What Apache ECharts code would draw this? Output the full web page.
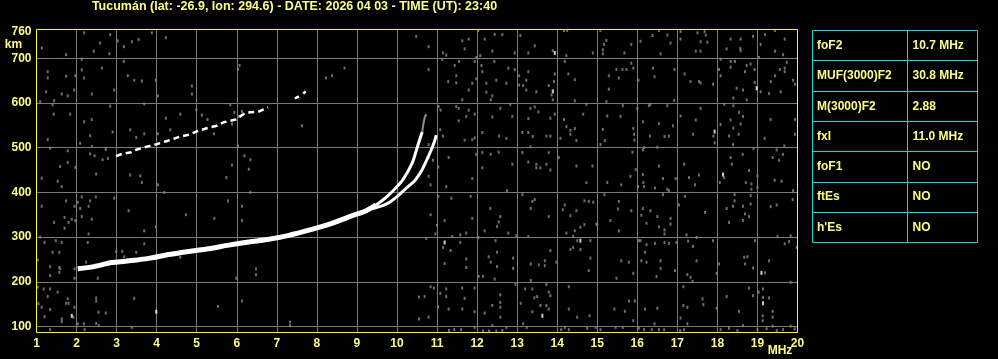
<!DOCTYPE html>
<html><head><meta charset="utf-8">
<script src="https://cdn.jsdelivr.net/npm/echarts@6/dist/echarts.min.js"></script>
<style>html,body{margin:0;padding:0;background:#000;}#c{width:998px;height:359px;}</style>
</head><body><div id="c"></div>
<script>
const titleText = 'Tucumán (lat: -26.9, lon: 294.6) - DATE: 2026 04 03 - TIME (UT): 23:40';
const yGridValues = [100, 200, 300, 400, 500, 600, 700];
const yLabelValues = [100, 200, 300, 400, 500, 600, 700, 760];
const yUnit = 'km';
const xUnit = 'MHz';
const paramNames = ['foF2', 'MUF(3000)F2', 'M(3000)F2', 'fxI', 'foF1', 'ftEs', "h'Es"];
const paramValues = ['10.7 MHz', '30.8 MHz', '2.88', '11.0 MHz', 'NO', 'NO', 'NO'];

// F2 trace (O + X merged), [MHz, km]
const f2Main = [[2.03,229],[2.43,234],[2.88,243],[3.22,246],[3.51,249],[3.84,253],[4.3,261],[4.8,268],[5.3,274],[5.8,282],[6.3,289],[6.8,295],[7.3,304],[7.82,316],[8.32,329],[8.82,346],[9.23,359],[9.48,372]];
const f2OBranch = [[9.48,372],[9.73,389],[9.94,407],[10.11,424],[10.15,429],[10.28,448],[10.4,470],[10.48,493],[10.57,519],[10.63,535]];
const f2OTail = [[10.63,535],[10.65,549],[10.69,567],[10.73,575]];
const f2XBranch = [[9.3,362],[9.73,374],[9.98,389],[10.2,407],[10.42,424],[10.47,429],[10.61,448],[10.73,470],[10.86,496],[10.94,515],[10.98,528]];
const f2TwoHop = [[2.99,481],[3.13,486],[3.37,490],[3.51,496],[3.62,499],[3.83,504],[4.01,508],[4.22,514],[4.4,519],[4.59,525],[4.8,529],[5.05,538],[5.27,544],[5.5,549],[5.68,557],[5.97,563],[6.22,578],[6.55,581],[6.78,590],[7.1,'-'],[7.45,610],[7.55,615],[7.6,'-'],[7.66,621],[7.72,626]];

const noiseWhite = [[13.94,712],[13.89,626],[18.98,633],[17.93,536],[18.14,440],[1.88,124],[3.99,133],[11.19,288],[13.63,124],[14.58,292],[19.1,220],[19.14,152]];
const noiseGray = [
[2.19,757],[2.84,753],[3.88,757],[1.13,723],[1.74,708],[2.59,734],[2.43,716],[2.82,710],[3.03,739],[3.18,726],[3.38,737],[3.55,742],[4.23,746],[2.13,698],[3.18,693],[2.63,678],[1.28,670],[1.28,656],[1.74,660],[2.13,674],[2.19,656],[1.97,661],[3.28,661],[3.44,651],[3.63,649],[3.98,651],[1.24,625],[1.63,620],[1.78,616],[1.94,629],[2.38,620],[2.94,629],[4.03,616],[4.88,638],[4.88,620],[6.07,684],[6.03,675],[1.09,603],[1.44,605],[1.4,596],[2.84,593],[3.69,598],[4.99,585],[5.13,573],[5.84,596],[5.94,579],[6.13,581],[1.43,575],[1.84,575],[2.19,558],[2.38,563],[2.9,535],[3.34,540],[3.49,523],[3.69,531],[4.03,531],[4.34,540],[4.23,566],[4.59,575],[5.27,563],[5.43,531],[5.88,553],[6.05,570],[2.34,527],[2.09,510],[1.28,518],[1.34,499],[1.78,493],[2.38,503],[2.34,486],[2.45,482],[2.73,496],[2.78,476],[2.65,473],[1.78,467],[1.59,458],[1.97,456],[2.49,441],[3.34,439],[3.59,437],[1.13,432],[6.03,504],[6.19,482],[6.34,473],[6.3,452],[5.88,461],[5.74,433],
[10.48,749],[10.79,726],[10.79,675],[8.69,678],[8.38,661],[8.23,656],[7.63,549],[11.15,712],[11.23,707],[11.13,698],[11.63,739],[11.79,743],[11.69,721],[12.03,762],[12.19,743],[12.44,753],[12.63,753],[12.38,716],[12.08,706],[11.98,702],[13.08,751],[13.44,728],[12.94,712],[13.28,712],[11.44,684],[11.55,693],[11.94,693],[12.11,684],[12.43,693],[12.13,670],[11.48,661],[11.28,648],[11.48,645],[11.88,644],[11.98,654],[12.23,644],[12.48,651],[12.73,644],[12.78,678],[12.94,675],[13.05,661],[13.28,670],[13.23,651],[13.15,639],[13.05,640],[13.23,629],[13.48,625],[11.79,629],[12.23,624],[12.38,616],[12.34,607],[11.63,607],[11.04,592],[11.09,584],[11.48,592],[11.54,588],[11.79,584],[11.94,575],[11.73,570],[11.54,560],[12.58,588],[12.83,597],[13.33,588],[13.44,591],[13.53,580],[12.38,569],[12.88,570],[13.28,565],[11.08,540],[11.15,526],[11.69,517],[11.88,518],[11.94,522],[12.13,534],[12.55,526],[12.73,521],[13.13,534],[13.28,534],[13.39,525],[13.33,502],[12.13,489],[12.34,485],[12.54,490],[11.98,485],[11.29,478],[11.03,457],[10.79,478],[10.9,472],[10.79,507],[10.9,501],[12.13,455],[11.88,431],[12.88,463],[13.13,489],[13.28,468],[13.48,463],[13.58,455],[13.48,455],[10.79,436],
[14.17,762],[14.25,762],[15.08,762],[16.54,762],[17.08,760],[17.5,757],[17.68,760],[17.71,752],[17.75,736],[17.58,737],[16.38,751],[16.75,752],[16.83,734],[16.08,738],[15.85,731],[15.23,740],[15.17,731],[15.14,719],[15.14,710],[15.68,712],[14.89,712],[13.89,717],[14.23,706],[14.19,693],[16.58,710],[17.08,743],[18.33,743],[18.58,743],[18.89,749],[19.19,753],[19.44,762],[19.68,743],[18.23,721],[18.57,722],[18.58,717],[19.08,731],[19.44,716],[19.64,708],[19.04,702],[17.46,716],[17.58,716],[18.08,698],[18.33,693],[18.44,693],[18.33,680],[18.73,684],[18.83,687],[18.93,675],[18.69,670],[19.73,691],[19.68,678],[19.56,675],[19.44,661],[19.68,670],[19.89,651],[19.94,642],[19.33,648],[19.08,625],[19.29,621],[19.58,625],[18.93,646],[18.48,633],[18.64,629],[18.73,607],[18.4,611],[18.08,661],[18.04,675],[17.89,642],[17.58,645],[17.54,648],[17.33,648],[17.18,665],[16.93,675],[16.39,678],[16.43,659],[16.03,651],[15.9,678],[15.85,689],[15.73,675],[15.63,675],[15.48,675],[15.54,656],[15.29,661],[15.29,631],[15.23,603],[14.44,652],[14.28,665],[13.94,665],[13.92,648],[13.79,639],[13.86,618],[13.89,607],[14.44,605],[14.73,597],[14.65,575],[13.83,566],[13.94,575],[14.17,563],[14.23,547],[14.44,543],[14.33,539],[14.33,530],[14.08,521],[13.73,526],[13.83,526],[14.48,516],[15.14,541],[15.19,516],[15.08,507],[15.25,571],[15.64,594],[15.58,570],[15.9,543],[15.92,530],[15.93,517],[16.0,588],[16.14,558],[16.29,594],[16.33,597],[16.54,554],[16.89,549],[16.75,594],[16.92,606],[17.08,571],[17.46,562],[17.39,530],[16.32,526],[16.68,525],[16.79,526],[16.5,501],[16.17,500],[16.14,495],[17.58,588],[17.9,526],[17.93,511],[18.08,552],[18.33,562],[18.58,553],[18.4,544],[18.53,530],[18.29,526],[18.39,507],[18.64,570],[18.54,579],[18.17,597],[18.4,594],[19.33,563],[19.18,521],[19.94,563],[19.94,530],[19.67,504],[19.48,495],[19.38,478],[19.54,472],[19.64,485],[18.9,498],[18.63,485],[18.33,478],[18.36,463],[18.17,433],[18.79,449],[19.0,437],[19.43,427],[17.17,463],[17.54,439],[17.29,433],[16.96,431],[16.54,459],[16.64,431],[16.14,440],[15.83,436],[15.96,451],[15.88,490],[14.88,459],[14.48,459],[14.04,478],[13.79,489],[13.73,463],[13.83,450],
[1.53,425],[1.63,413],[3.63,422],[4.03,417],[4.19,400],[2.13,390],[2.34,381],[2.48,390],[2.94,387],[1.74,381],[2.03,378],[1.95,369],[2.3,369],[2.09,364],[1.13,369],[3.3,359],[1.7,344],[1.8,333],[1.7,320],[1.88,340],[1.44,333],[2.38,340],[2.13,346],[1.97,337],[4.73,350],[5.44,342],[5.78,381],[6.13,369],[6.13,337],[6.34,400],[3.69,314],[3.69,285],[3.98,323],[2.3,307],[1.09,300],[1.2,288],[1.48,292],[1.63,288],[2.28,288],[1.4,266],[1.57,266],[1.03,249],[1.34,234],[1.57,232],[1.59,229],[1.34,214],[1.57,221],[1.95,229],[2.24,244],[2.99,268],[3.14,268],[3.49,266],[3.19,256],[2.53,208],[1.95,208],[1.03,188],[1.18,184],[1.34,184],[1.53,177],[1.28,167],[1.78,162],[2.49,164],[2.49,157],[1.05,151],[1.13,143],[1.34,138],[1.8,152],[1.74,152],[1.95,143],[2.55,132],[2.73,130],[1.2,122],[1.63,117],[1.63,111],[1.92,121],[2.03,106],[2.18,106],[2.49,107],[2.55,102],[1.34,93],[2.2,93],[3.38,98],[3.44,163],[5.53,145],[6.13,157],[5.99,208],[6.48,229],[6.48,216],[4.59,255],
[10.84,417],[11.23,413],[11.03,391],[11.36,387],[11.84,391],[12.75,404],[13.13,395],[13.44,384],[13.38,380],[13.34,364],[12.33,364],[12.58,346],[12.54,334],[12.5,324],[12.19,314],[11.88,342],[11.19,337],[10.84,350],[11.0,326],[10.96,307],[10.73,297],[11.38,301],[11.58,305],[11.73,309],[11.15,277],[11.34,270],[11.58,288],[12.03,299],[12.46,292],[12.5,266],[12.78,309],[12.98,303],[13.28,301],[12.29,256],[12.34,244],[12.5,234],[11.73,251],[11.73,232],[11.19,241],[12.9,253],[12.9,230],[13.34,240],[13.54,238],[13.34,203],[12.04,212],[12.15,212],[12.44,206],[12.96,194],[13.2,184],[13.38,184],[13.43,164],[13.5,167],[13.58,147],[13.38,133],[13.09,152],[12.58,171],[12.58,154],[12.38,147],[12.58,143],[12.58,121],[12.19,130],[11.94,133],[11.63,139],[11.63,186],[11.94,186],[11.23,184],[11.23,167],[11.08,174],[10.92,186],[10.84,189],[10.69,167],[10.55,166],[11.03,144],[11.29,139],[10.79,121],[10.55,117],[11.69,163],[11.94,98],[12.38,102],[12.73,98],[13.15,106],[13.24,98],[11.3,91],[11.43,93],[11.6,93],[12.15,90],[12.3,90],[12.48,90],[12.63,91],[7.33,110],[7.33,102],
[14.73,422],[15.25,422],[15.6,417],[16.02,413],[16.15,422],[16.17,413],[16.44,410],[16.75,407],[16.79,404],[17.44,417],[18.06,422],[18.71,422],[18.85,419],[18.85,407],[19.0,411],[19.6,425],[19.89,404],[15.18,395],[16.64,395],[17.19,391],[18.43,395],[18.83,393],[18.83,374],[19.88,384],[14.79,380],[14.9,378],[14.68,381],[14.19,372],[14.48,359],[14.33,348],[14.14,361],[13.79,346],[15.54,380],[15.52,363],[15.85,359],[16.14,364],[16.33,359],[16.1,349],[16.5,346],[16.83,342],[16.83,329],[16.54,323],[16.68,316],[16.68,307],[16.23,331],[15.33,337],[15.54,314],[14.98,329],[14.68,328],[14.58,322],[14.44,314],[14.23,309],[14.4,302],[14.5,292],[14.4,277],[14.33,272],[14.58,272],[14.83,292],[15.0,328],[13.83,270],[13.69,247],[13.69,236],[13.98,244],[14.83,253],[14.79,225],[15.48,208],[15.6,247],[15.79,244],[15.9,219],[16.1,247],[16.23,244],[16.19,266],[16.08,292],[16.04,292],[16.23,283],[16.44,286],[16.68,288],[16.79,286],[16.98,288],[16.58,247],[16.58,230],[16.48,212],[16.94,225],[17.25,216],[17.33,210],[17.38,201],[17.48,247],[17.39,279],[17.27,291],[17.48,299],[17.23,305],[17.69,355],[17.04,372],[17.89,292],[18.04,240],[17.98,219],[18.23,364],[18.29,333],[18.39,369],[18.64,369],[18.64,337],[18.69,352],[18.79,346],[18.43,381],[18.67,255],[18.75,256],[18.69,240],[18.89,231],[19.29,247],[18.94,292],[19.33,368],[19.48,372],[19.5,301],[19.83,303],[19.68,285],[19.79,290],[19.98,277],[19.19,220],[19.83,199],[13.73,194],[13.79,177],[13.83,169],[13.73,147],[13.79,139],[14.29,189],[14.29,139],[14.81,124],[14.5,121],[15.43,139],[15.69,134],[15.79,157],[15.94,157],[16.19,139],[16.5,141],[15.9,113],[16.43,106],[17.08,119],[17.25,106],[17.15,147],[17.25,143],[17.15,189],[17.63,162],[17.65,149],[18.23,167],[17.98,141],[18.54,134],[18.64,102],[18.79,186],[18.89,169],[19.03,177],[19.14,184],[19.14,165],[19.29,164],[19.38,134],[19.38,121],[19.13,124],[19.13,113],[19.38,101],[19.83,101],[19.93,95],[19.64,93],[19.48,91],[19.23,95],[19.0,93],[18.5,91],[18.29,96],[18.08,93],[17.17,93],[17.07,91],[16.67,93],[16.54,93],[16.36,93],[16.17,93],[16.04,96],[15.64,98],[15.46,98],[15.08,93],[14.96,98],[14.75,96],[14.29,93],[14.1,93],[14.19,98]
];

const TXT = '#ffff80';
const FONT = '"Liberation Sans", Arial, sans-serif';
const CYAN = '#00dede';

const chart = echarts.init(document.getElementById('c'), null, {renderer: 'canvas'});

// table graphics
const tbl = {x0: 812.5, x1: 977.5, xm: 907.5, y0: 30.5, rowH: 30.3};
const graphics = [];
graphics.push({type: 'text', x: 294.5, y: 7, silent: true,
  style: {text: titleText, fill: TXT, font: 'bold 12.5px ' + FONT, align: 'center', verticalAlign: 'middle', textAlign: 'center', textVerticalAlign: 'middle'}});
graphics.push({type: 'text', x: 13.5, y: 45, silent: true,
  style: {text: yUnit, fill: TXT, font: 'bold 12px ' + FONT, align: 'center', verticalAlign: 'middle', textAlign: 'center', textVerticalAlign: 'middle'}});
graphics.push({type: 'text', x: 780, y: 351, silent: true,
  style: {text: xUnit, fill: TXT, font: 'bold 12px ' + FONT, align: 'center', verticalAlign: 'middle', textAlign: 'center', textVerticalAlign: 'middle'}});
const nRows = paramNames.length;
const yEnd = Math.round(tbl.y0 + nRows * tbl.rowH - 0.5) + 0.5;
graphics.push({type: 'rect', silent: true, shape: {x: tbl.x0, y: tbl.y0, width: tbl.x1 - tbl.x0, height: yEnd - tbl.y0}, style: {fill: 'none', stroke: CYAN, lineWidth: 1}});
graphics.push({type: 'line', silent: true, shape: {x1: tbl.xm, y1: tbl.y0, x2: tbl.xm, y2: yEnd}, style: {stroke: CYAN, lineWidth: 1}});
for (let i = 0; i < nRows; i++) {
  const yt = Math.round(tbl.y0 + i * tbl.rowH - 0.5) + 0.5;
  if (i > 0) graphics.push({type: 'line', silent: true, shape: {x1: tbl.x0, y1: yt, x2: tbl.x1, y2: yt}, style: {stroke: CYAN, lineWidth: 1}});
  const yc = tbl.y0 + (i + 0.5) * tbl.rowH;
  graphics.push({type: 'text', x: 817, y: yc, silent: true, style: {text: paramNames[i], fill: TXT, font: 'bold 12px ' + FONT, align: 'left', verticalAlign: 'middle', textAlign: 'left', textVerticalAlign: 'middle'}});
  graphics.push({type: 'text', x: 912.5, y: yc, silent: true, style: {text: paramValues[i], fill: TXT, font: 'bold 12px ' + FONT, align: 'left', verticalAlign: 'middle', textAlign: 'left', textVerticalAlign: 'middle'}});
}

const labelStyle = {color: TXT, fontSize: 12, fontWeight: 'bold', fontFamily: FONT};

chart.setOption({
  backgroundColor: '#000',
  animation: false,
  grid: {left: 36.5, top: 29.5, width: 761, height: 303, show: true, borderColor: '#ffff00', borderWidth: 1, backgroundColor: 'transparent', z: 10},
  xAxis: {
    type: 'value', min: 1, max: 20, interval: 1,
    axisLine: {show: false}, axisTick: {show: false},
    splitLine: {show: true, lineStyle: {color: '#7a7a7a', width: 1}},
    axisLabel: Object.assign({margin: 5}, labelStyle)
  },
  yAxis: {
    type: 'value', min: 86.6, max: 764.4,
    axisLine: {show: false},
    axisTick: {show: false, customValues: yGridValues},
    splitLine: {show: true, lineStyle: {color: '#7a7a7a', width: 1}},
    axisLabel: Object.assign({margin: 5, customValues: yLabelValues}, labelStyle)
  },
  graphic: graphics,
  series: [
    {name: 'noise', type: 'scatter', data: noiseGray, symbol: 'rect', symbolSize: [2, 3], itemStyle: {color: '#888888'}, silent: true, z: 2},
    {name: 'noise bright', type: 'scatter', data: noiseWhite, symbol: 'rect', symbolSize: [2, 4], itemStyle: {color: '#ffffff'}, silent: true, z: 3},
    {name: 'F2 2-hop', type: 'line', data: f2TwoHop, showSymbol: false, connectNulls: false, lineStyle: {color: '#ffffff', width: 2.5, type: [6, 4]}, silent: true, z: 4},
    {name: 'F2', type: 'line', data: f2Main, showSymbol: false, smooth: 0.3, lineStyle: {color: '#ffffff', width: 5}, silent: true, z: 5},
    {name: 'F2 O', type: 'line', data: f2OBranch, showSymbol: false, smooth: 0.3, lineStyle: {color: '#ffffff', width: 3}, silent: true, z: 5},
    {name: 'F2 O tail', type: 'line', data: f2OTail, showSymbol: false, lineStyle: {color: '#909090', width: 2}, silent: true, z: 5},
    {name: 'F2 X', type: 'line', data: f2XBranch, showSymbol: false, smooth: 0.3, lineStyle: {color: '#ffffff', width: 3}, silent: true, z: 5}
  ]
});
</script>
</body></html>
